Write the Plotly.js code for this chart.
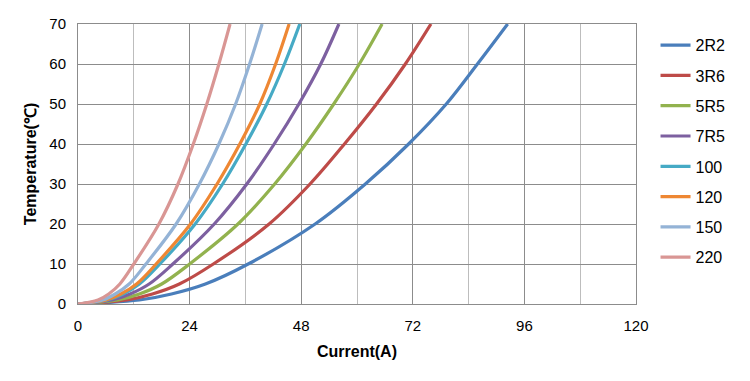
<!DOCTYPE html>
<html><head><meta charset="utf-8">
<script src="https://cdn.plot.ly/plotly-3.0.1.min.js"></script>
<style>html,body{margin:0;padding:0;background:#fff;}#chart{width:750px;height:381px;}</style>
</head><body><div id="chart"></div>
<script>
// Temperature levels (°C) at which each curve's current was read
const temps = [0, 1, 2.5, 5, 10, 20, 30, 40, 50, 60, 70];
// Current (A) for each series at those temperatures
const s2R2 = [0, 13.2, 20.1, 27.4, 36.6, 51.0, 61.8, 71.1, 79.2, 85.9, 92.4];
const s3R6 = [0, 10.5, 16.0, 21.8, 29.1, 41.1, 49.9, 57.3, 64.2, 70.4, 75.9];
const s5R5 = [0, 8.6, 13.2, 18.0, 24.0, 34.4, 42.3, 49.0, 55.0, 60.5, 65.4];
const s7R5 = [0, 7.3, 11.2, 15.3, 20.4, 29.3, 36.3, 42.2, 47.5, 52.2, 56.1];
const s100 = [0, 6.3, 9.7, 13.2, 17.6, 25.2, 31.1, 36.1, 40.6, 44.4, 47.7];
const s120 = [0, 6.0, 9.2, 12.6, 16.8, 24.2, 29.9, 34.8, 39.1, 42.5, 45.4];
const s150 = [0, 5.3, 8.0, 11.0, 14.6, 21.1, 26.1, 30.3, 33.9, 36.9, 39.6];
const s220 = [0, 4.3, 6.6, 9.0, 12.0, 17.4, 21.5, 24.8, 27.7, 30.3, 32.7];
const names = ['2R2', '3R6', '5R5', '7R5', '100', '120', '150', '220'];
const series = [s2R2, s3R6, s5R5, s7R5, s100, s120, s150, s220];
const colors = ['#4A7EBB', '#BE4B48', '#92B24E', '#7D60A0', '#46AAC5', '#EE8733', '#94B3D6', '#D99694'];
const xTicks = [0, 24, 48, 72, 96, 120];
const yTicks = [0, 10, 20, 30, 40, 50, 60, 70];

const traces = series.map((s, i) => ({
  x: s, y: temps, name: names[i], type: 'scatter', mode: 'lines',
  line: {color: colors[i], width: 3.2, shape: 'spline', smoothing: 1},
  legendgroup: 'g' + i
}));

const layout = {
  width: 750, height: 381,
  margin: {l: 78, r: 114, t: 24, b: 77},
  paper_bgcolor: '#fff', plot_bgcolor: '#fff',
  font: {family: '"Liberation Sans", Arial, sans-serif', color: '#000', size: 15},
  showlegend: true,
  legend: {x: 1.035, xanchor: 'left', y: 0.985, yanchor: 'top',
    font: {size: 16}, tracegroupgap: 6.5, traceorder: 'grouped', itemwidth: 30},
  xaxis: {range: [0, 120], tickvals: xTicks, ticktext: xTicks.map(String),
    showgrid: true, gridcolor: '#8c8c8c', gridwidth: 1,
    minor: {dtick: 12, tick0: 0, showgrid: true, gridcolor: '#bdbdbd', gridwidth: 1},
    showline: true, linecolor: '#8c8c8c', linewidth: 1, mirror: true,
    zeroline: false, ticks: '', ticklabelstandoff: 8,
    tickfont: {size: 15},
    title: {text: '<b>Current(A)</b>', font: {size: 16}, standoff: 12}},
  yaxis: {range: [0, 70], tickvals: yTicks, ticktext: yTicks.map(String),
    showgrid: true, gridcolor: '#8c8c8c', gridwidth: 1,
    showline: true, linecolor: '#8c8c8c', linewidth: 1, mirror: true,
    zeroline: false, ticks: '', ticklabelstandoff: 8,
    tickfont: {size: 15},
    title: {text: '<b>Temperature(℃)</b>', font: {size: 16}, standoff: 8}}
};
Plotly.newPlot('chart', traces, layout, {displayModeBar: false, staticPlot: true});
</script></body></html>
